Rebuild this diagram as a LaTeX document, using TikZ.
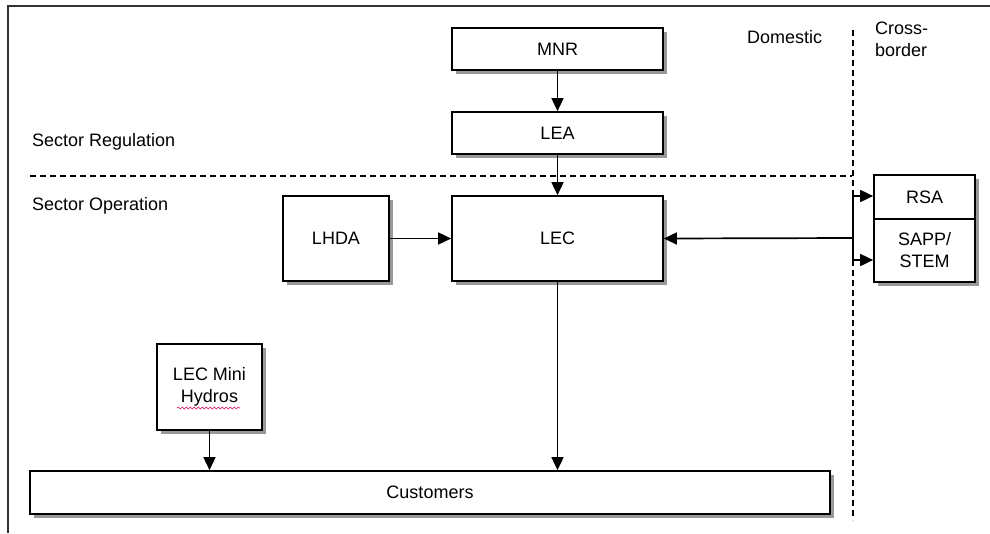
\documentclass[tikz,border=0pt]{standalone}
\usepackage{fontspec}
\setmainfont{Liberation Sans}
\usetikzlibrary{arrows.meta,shadows,decorations.pathmorphing}
\begin{document}
\begin{tikzpicture}[x=1pt,y=-1pt,
  box/.style={draw=black,line width=1.7pt,fill=white,rectangle,inner sep=0pt,
    font=\fontsize{18}{22}\selectfont,align=center,
    drop shadow={shadow xshift=3.5pt,shadow yshift=-3.5pt,fill=black!40,opacity=1}},
  lbl/.style={font=\fontsize{18}{22}\selectfont,inner sep=0pt,anchor=west,align=left},
  arr/.style={line width=1.7pt,-{Triangle[length=13pt,width=12pt]}},
  ln/.style={line width=1.7pt},
  dsh/.style={line width=1.6pt,dash pattern=on 6pt off 4pt}]
\useasboundingbox (0,0) rectangle (990,533);
% frame
\draw[line width=2pt,black!80] (8,533) -- (8,6) -- (990,6);
% dashed separators
\draw[dsh] (30,176) -- (852,176);
\draw[dsh] (853,30) -- (853,520);
% labels
\node[lbl] (dom) at (747,37) {Domestic};
\node[lbl] (cb) at (875,39) {Cross-\\border};
\node[lbl] (sreg) at (32,142) {Sector Regulation};
\node[lbl] (sop) at (32,206) {Sector Operation};
% boxes
\node[box,minimum width=211pt,minimum height=42pt] (mnr) at (557.5,49) {MNR};
\node[box,minimum width=211pt,minimum height=42pt] (lea) at (557.5,133) {LEA};
\node[box,minimum width=211pt,minimum height=85pt] (lec) at (557.5,238.5) {LEC};
\node[box,minimum width=106pt,minimum height=85pt] (lhda) at (336,238.5) {LHDA};
\node[box,minimum width=101pt,minimum height=44pt] (rsa) at (924.5,197) {RSA};
\node[box,minimum width=101pt,minimum height=63pt] (sapp) at (924.5,250.5) {SAPP/\\STEM};
\node[box,minimum width=105pt,minimum height=86pt] (hyd) at (209.5,387) {LEC Mini\\Hydros};
\node[box,minimum width=800pt,minimum height=43pt] (cust) at (430,492.5) {Customers};
% spell-check underline
\draw[red!70!magenta,line width=0.6pt,decorate,decoration={snake,amplitude=0.9pt,segment length=4pt}] (177,408) -- (240,408);
% connectors
\draw[arr] (mnr) -- (lea);
\draw[arr] (lea) -- (lec);
\draw[arr] (lhda) -- (lec);
\coordinate (j) at (853,238);
\coordinate (ja) at (853,196);
\coordinate (jb) at (853,260);
\draw[arr] (j) -- (lec.east);
\draw[ln] (ja) -- (jb);
\draw[arr] (ja) -- (rsa.west |- ja);
\draw[arr] (jb) -- (sapp.west |- jb);
\draw[arr] (lec.south) -- (lec.south |- cust.north);
\draw[arr] (hyd.south) -- (hyd.south |- cust.north);
\end{tikzpicture}
\end{document}
